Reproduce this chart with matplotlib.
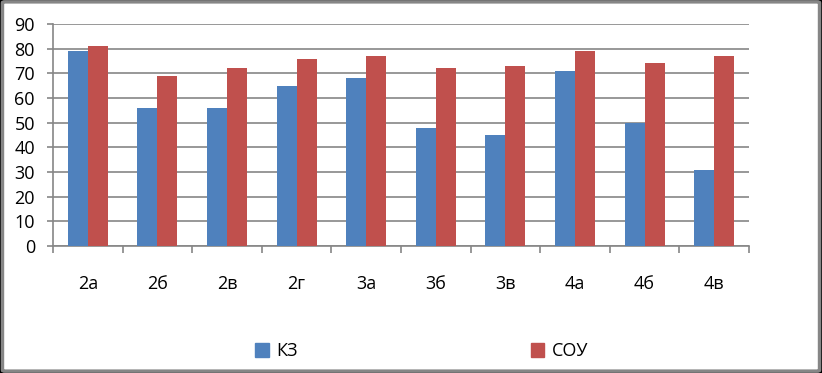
import numpy as np
import matplotlib.pyplot as plt
from matplotlib.patches import FancyBboxPatch, Patch

# данные
CLASSES = ["2а", "2б", "2в", "2г", "3а", "3б", "3в", "4а", "4б", "4в"]
KZ = [79, 56, 56, 65, 68, 48, 45, 71, 50, 31]
SOU = [81, 69, 72, 76, 77, 72, 73, 79, 74, 77]

BLUE = "#4F81BD"
RED = "#C0504D"
GRID = "#868686"

plt.rcParams["font.family"] = ["Open Sans", "DejaVu Sans"]

fig = plt.figure(figsize=(8.22, 3.73), dpi=100, facecolor="black")
# белая рамка диаграммы (под осями)
frame = FancyBboxPatch((0.003, 0.005), 0.994, 0.99,
                       boxstyle="round,pad=0,rounding_size=0.003",
                       transform=fig.transFigure, facecolor="white",
                       edgecolor=GRID, linewidth=2.5, zorder=-10)
fig.patches.append(frame)

ax = fig.add_axes([0.0645, 0.3405, 0.8467, 0.5952])
ax.patch.set_alpha(0)

x = np.arange(len(CLASSES))
w = 0.287
ax.bar(x - w / 2, KZ, w, color=BLUE, zorder=3)
ax.bar(x + w / 2, SOU, w, color=RED, zorder=3)

ax.set_xlim(-0.5, len(CLASSES) - 0.5)
ax.set_ylim(0, 90)
ax.set_yticks(range(0, 91, 10))
ax.yaxis.grid(True, color=GRID, linewidth=1.2, zorder=0)
ax.set_axisbelow(True)

# деления между группами, подписи по центрам
ax.set_xticks(np.arange(-0.5, len(CLASSES), 1))
ax.set_xticklabels([])
ax.set_xticks(x, minor=True)
ax.set_xticklabels(CLASSES, minor=True)
ax.tick_params(axis="x", which="major", length=5, color=GRID, width=1.2)
ax.tick_params(axis="x", which="minor", length=0, pad=21, labelsize=13)
ax.tick_params(axis="y", length=4, color=GRID, width=1.2, pad=9, labelsize=13)

for s in ["top", "right"]:
    ax.spines[s].set_visible(False)
for s in ["left", "bottom"]:
    ax.spines[s].set_color(GRID)
    ax.spines[s].set_linewidth(1.2)

handles = [Patch(color=BLUE, label="КЗ"), Patch(color=RED, label="СОУ")]
fig.legend(handles=handles, loc="center", bbox_to_anchor=(0.513, 0.058),
           ncol=2, frameon=False, fontsize=13, columnspacing=12.9,
           handlelength=0.75, handleheight=0.75, handletextpad=0.4)

fig.savefig("out.png", dpi=100, facecolor="black")
